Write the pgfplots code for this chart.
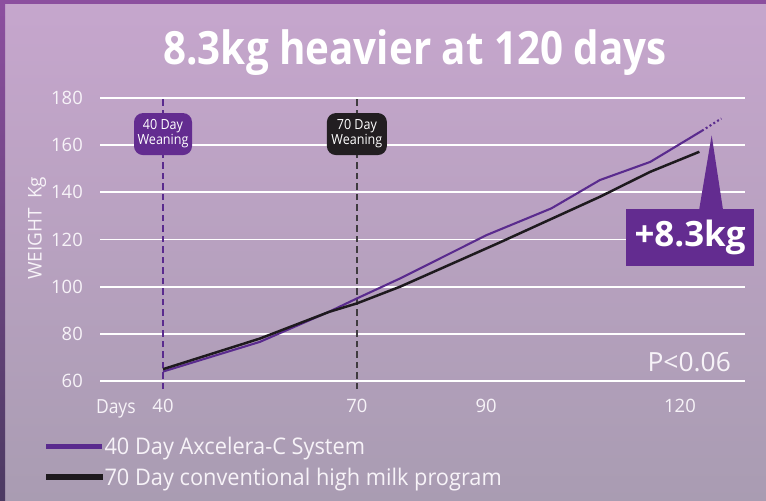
\documentclass[border=0pt]{standalone}
\usepackage{pgfplots}
\pgfplotsset{compat=1.18}
\usepackage{fontspec}
\setmainfont{Open Sans}
\newfontfamily\condfont{Open Sans}[FakeStretch=0.9]
\newfontfamily\legfont{Open Sans}[FakeStretch=0.95]
\newfontfamily\titlefont{Open Sans}[FakeStretch=0.88]
\definecolor{bgtop}{HTML}{C6A6CD}
\definecolor{bgbot}{HTML}{A99CB2}
\definecolor{bordpurple}{HTML}{8C4F9F}
\definecolor{borddark}{HTML}{4C3A62}
\definecolor{linepurple}{HTML}{5A2B8E}
\definecolor{lineblack}{HTML}{1E1A1E}
\definecolor{boxpurple}{HTML}{632C90}
\definecolor{boxblack}{HTML}{221E21}
\definecolor{txtwhite}{HTML}{F7F3F8}
\begin{document}
\begin{tikzpicture}[x=1bp,y=1bp]
\useasboundingbox (0,0) rectangle (766,501);
\shade[top color=bgtop, bottom color=bgbot] (0,0) rectangle (766,501);
\fill[bordpurple] (0,497) rectangle (766,501);
\shade[top color=bordpurple, bottom color=borddark] (0,0) rectangle (5,497);
\node[anchor=base, text=white, inner sep=0pt, font=\titlefont\bfseries\fontsize{46}{50}\selectfont] at (415,436) {8.3kg heavier at 120 days};
\begin{axis}[
  at={(100bp,120bp)}, anchor=south west,
  scale only axis, width=645bp, height=283bp,
  xmin=30.25, xmax=130.06, ymin=60, ymax=180,
  clip=false,
  axis line style={draw=none},
  major tick length=0pt,
  ytick={60,80,...,180},
  xtick={40,70,90,120},
  xticklabels={40,70,90,120},
  ymajorgrids,
  grid style={white, line width=1.7bp},
  /pgf/number format/assume math mode=true,
  ticklabel style={text=txtwhite, font=\fontsize{18.5}{20}\selectfont},
  yticklabel style={anchor=east, inner sep=0pt, xshift=-17bp},
  xticklabel style={anchor=base, inner sep=0pt, yshift=-32bp, font=\fontsize{18.5}{20}\selectfont},
  ylabel={WEIGHT\hspace{0.5em}Kg},
  ylabel style={text=txtwhite, font=\fontsize{19}{20}\selectfont, at={(axis description cs:-0.078,0.54)}, anchor=south},
  legend style={at={(-0.084,-0.19)}, anchor=north west, draw=none, fill=none,
    text=txtwhite, font=\legfont\fontsize{23}{24}\selectfont, row sep=8bp,
    inner sep=0pt, nodes={inner sep=2bp}},
  legend cell align=left,
  legend image code/.code={\fill[#1] (0bp,-1.6bp) rectangle (54bp,1.6bp);},
]
\draw[linepurple, line width=1.3bp, dash pattern=on 6.5bp off 4bp] (axis cs:40,56.5) -- (axis cs:40,180);
\draw[lineblack!85, line width=1.3bp, dash pattern=on 6.5bp off 4bp] (axis cs:70,56.5) -- (axis cs:70,180);
\addplot[linepurple, line width=2.1bp] coordinates {
(40,64) (55,76.6) (65.8,89.5) (70,95) (76.7,103.5) (90.1,121.9) (100.1,133.2) (107.6,145.2) (115.4,152.9) (123.4,166.1)};
\addlegendentry{40 Day Axcelera-C System}
\addplot[lineblack, line width=2.5bp] coordinates {
(40,65) (55,78) (65.8,89.4) (70,92.9) (76.7,100) (92,118.6) (107.6,138.1) (115.4,148.7) (123,157.2)};
\addlegendentry{70 Day conventional high milk program}
\addplot[linepurple, line width=2.1bp, dash pattern=on 2bp off 2.5bp, forget plot] coordinates {(123.4,166.1) (126.4,171.3)};
\node[fill=boxpurple, rounded corners=9bp, minimum width=58bp, minimum height=42bp, inner sep=1bp, align=center, text=white, font=\condfont\fontsize{14}{15}\selectfont] at (axis cs:40,164.7) {40 Day\\Weaning};
\node[fill=boxblack, rounded corners=9bp, minimum width=60bp, minimum height=42bp, inner sep=1bp, align=center, text=white, font=\condfont\fontsize{14}{15}\selectfont] at (axis cs:70,164.7) {70 Day\\Weaning};
\fill[boxpurple] (axis cs:122.8,130) -- (axis cs:124.9,164.2) -- (axis cs:126.8,130) -- cycle;
\node[fill=boxpurple, minimum width=128bp, minimum height=57bp, inner sep=0pt, text=white, font=\bfseries\fontsize{35}{40}\selectfont] at (axis cs:121.55,120.8) {+8.3kg};
\node[anchor=base east, inner sep=0pt, text=txtwhite, font=\fontsize{26.5}{28}\selectfont] at (axis cs:127.9,63.9) {P<0.06};
\node[anchor=base, inner sep=0pt, text=txtwhite, font=\condfont\fontsize{19.5}{20}\selectfont] at (axis cs:32.7,46.4) {Days};
\end{axis}
\end{tikzpicture}
\end{document}
